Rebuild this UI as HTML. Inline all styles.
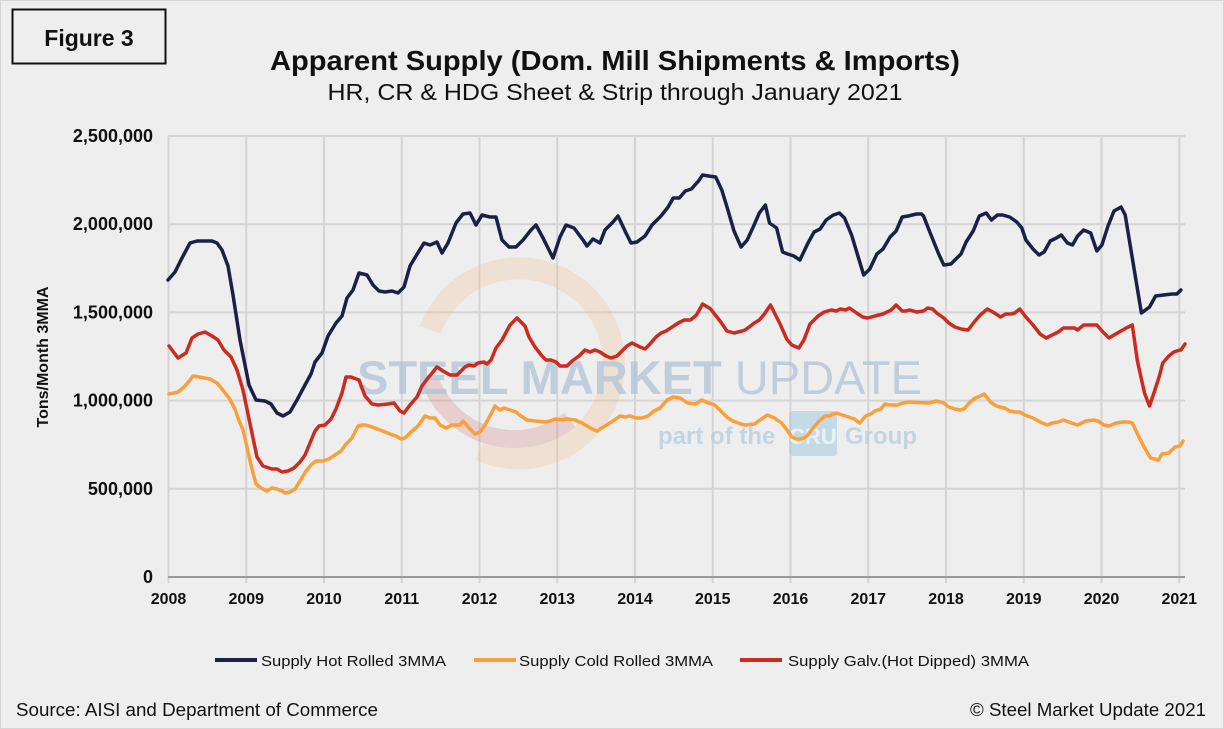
<!DOCTYPE html>
<html><head><meta charset="utf-8"><style>
html,body{margin:0;padding:0;background:#eeeeee}
svg{display:block;font-family:"Liberation Sans",Arial,sans-serif}
</style></head><body>
<svg id="s" width="1224" height="729" viewBox="0 0 1224 729" xmlns="http://www.w3.org/2000/svg">
<rect x="0" y="0" width="1224" height="729" fill="#eeeeee"/>
<rect x="0.5" y="0.5" width="1223" height="728" fill="none" stroke="#d6d6d6"/>
<rect x="12.5" y="9.5" width="153" height="54" fill="none" stroke="#111" stroke-width="2"/>
<text x="89" y="46" font-size="23" font-weight="bold" text-anchor="middle" fill="#111">Figure 3</text>
<text x="615" y="70" font-size="28" font-weight="bold" text-anchor="middle" textLength="690" lengthAdjust="spacingAndGlyphs" fill="#111">Apparent Supply (Dom. Mill Shipments &amp; Imports)</text>
<text x="615" y="100" font-size="23" text-anchor="middle" textLength="575" lengthAdjust="spacingAndGlyphs" fill="#111">HR, CR &amp; HDG Sheet &amp; Strip through January 2021</text>
<g id="grid" stroke="#d4d4d4" stroke-width="2"></g>
<!-- watermark -->
<g opacity="0.28">
<path d="M430 330 A95 95 0 1 1 480 450" fill="none" stroke="#f0c090" stroke-width="22"/>
<path d="M430 380 A90 90 0 0 0 570 420" fill="none" stroke="#d88080" stroke-width="18"/>
</g>
<text x="357" y="394" font-size="47" font-weight="bold" fill="#b0c4d8" opacity="0.75">STEEL MARKET <tspan font-weight="normal">UPDATE</tspan></text>
<text x="658" y="444" font-size="24" font-weight="bold" fill="#b7cfe2" opacity="0.8">part of the</text>
<rect x="789" y="411" width="48" height="45" rx="3" fill="#a9cfe2" opacity="0.6"/>
<text x="813" y="444" font-size="22" font-weight="bold" text-anchor="middle" fill="#e8f2f8">CRU</text>
<text x="845" y="444" font-size="24" font-weight="bold" fill="#b7cfe2" opacity="0.8">Group</text>
<g id="series" fill="none" stroke-width="3.5" stroke-linejoin="round" stroke-linecap="round"></g>
<line x1="168" y1="577" x2="1185" y2="577" stroke="#9a9a9a" stroke-width="2"/>
<g id="labels" font-size="16" font-weight="bold" fill="#111"></g>
<g id="ylabels" font-size="18" font-weight="bold" fill="#111"></g>
<text transform="translate(48,357) rotate(-90)" font-size="16" font-weight="bold" text-anchor="middle" fill="#111">Tons/Month 3MMA</text>
<line x1="215" y1="660" x2="257" y2="660" stroke="#1a2048" stroke-width="4"/>
<text x="261" y="666" font-size="15" textLength="185" lengthAdjust="spacingAndGlyphs" fill="#111">Supply Hot Rolled 3MMA</text>
<line x1="474" y1="660" x2="516" y2="660" stroke="#f9a03c" stroke-width="4"/>
<text x="519" y="666" font-size="15" textLength="194" lengthAdjust="spacingAndGlyphs" fill="#111">Supply Cold Rolled 3MMA</text>
<line x1="740" y1="660" x2="782" y2="660" stroke="#cc2b1f" stroke-width="4"/>
<text x="788" y="666" font-size="15" textLength="241" lengthAdjust="spacingAndGlyphs" fill="#111">Supply Galv.(Hot Dipped) 3MMA</text>
<text x="16" y="716" font-size="18.5" textLength="362" lengthAdjust="spacingAndGlyphs" fill="#111">Source: AISI and Department of Commerce</text>
<text x="1206" y="716" font-size="18.5" text-anchor="end" textLength="236" lengthAdjust="spacingAndGlyphs" fill="#111">© Steel Market Update 2021</text>
</svg>
<script>
var NS="http://www.w3.org/2000/svg";
function el(t,a,p){var e=document.createElementNS(NS,t);for(var k in a)e.setAttribute(k,a[k]);document.getElementById(p).appendChild(e);return e;}
var x0=168.5,dx=77.75;
for(var i=0;i<=13;i++){var x=x0+i*dx;el('line',{x1:x,y1:136,x2:x,y2:583},'grid');
 var t=el('text',{x:x,y:604,'text-anchor':'middle'},'labels');t.textContent=2008+i;}
var yl=['0','500,000','1,000,000','1,500,000','2,000,000','2,500,000'];
for(var j=0;j<=5;j++){var y=577-j*88.2;if(j>0)el('line',{x1:168,y1:y,x2:1185,y2:y},'grid');
 var t=el('text',{x:153,y:y+6,'text-anchor':'end'},'ylabels');t.textContent=yl[j];}
function fix(a){return a.map(function(p){var x=p[0];if(x>660)x=660+(x-660)*1.0135;return x.toFixed(1)+','+p[1];}).join(' ');}
var navy=[[168,280],[175,272],[182,258],[190,243],[197,241],[205,241],[212,241],[217,243],[222,250],[228,266],[233,295],[240,340],[249,385],[256,400],[265,401],[271,404],[277,413],[283,416],[290,412],[297,400],[305,385],[311,374],[315,362],[322,353],[328,336],[336,323],[342,316],[347,298],[353,290],[359,273],[367,275],[373,285],[379,291],[385,292],[392,291],[398,293],[404,287],[410,266],[416,256],[424,243],[430,245],[437,242],[442,253],[448,243],[456,223],[463,214],[470,213],[476,225],[482,215],[490,217],[496,217],[502,240],[509,247],[516,247],[523,240],[531,230],[536,225],[543,238],[553,258],[560,237],[566,225],[574,228],[583,240],[587,246],[593,239],[600,243],[605,230],[613,222],[618,216],[626,233],[631,243],[637,242],[645,236],[652,225],[661,216],[668,207],[673,198],[679,198],[685,191],[691,189],[698,181],[702,175],[708,176],[715,177],[721,190],[727,210],[733,231],[740,247],[746,240],[752,227],[758,213],[764,205],[768,223],[775,228],[781,252],[786,254],[792,256],[798,260],[806,243],[812,232],[818,229],[824,220],[831,215],[837,213],[842,218],[849,235],[855,255],[861,275],[867,269],[874,254],[880,249],[887,237],[893,231],[899,217],[905,216],[913,214],[918,214],[920,216],[927,234],[935,254],[940,265],[947,264],[957,254],[962,242],[969,231],[975,216],[982,213],[987,220],[993,215],[998,215],[1005,217],[1012,222],[1017,228],[1021,240],[1028,249],[1034,255],[1039,252],[1045,241],[1051,238],[1056,235],[1062,243],[1067,245],[1072,236],[1078,230],[1085,233],[1091,251],[1096,245],[1102,226],[1108,211],[1115,207],[1119,215],[1125,252],[1135,313],[1143,307],[1149,296],[1165,294],[1170,294],[1174,290]];
var red=[[169,346],[178,358],[186,353],[192,338],[198,334],[205,332],[212,336],[218,340],[224,350],[231,357],[237,370],[243,390],[248,414],[253,438],[257,457],[263,466],[272,469],[277,469],[282,472],[288,471],[294,468],[300,462],[305,455],[310,443],[315,431],[319,426],[325,425],[331,419],[336,409],[342,393],[346,377],[351,377],[359,380],[365,396],[372,404],[378,405],[388,404],[394,403],[400,411],[404,413],[410,405],[417,397],[422,386],[428,378],[437,367],[443,371],[450,375],[457,375],[465,367],[469,365],[474,366],[478,363],[484,362],[487,364],[491,360],[496,348],[502,340],[510,325],[517,318],[525,326],[529,337],[535,347],[542,356],[546,360],[551,360],[556,362],[560,366],[567,366],[572,361],[579,356],[585,350],[590,352],[595,350],[600,352],[606,356],[611,358],[617,356],[623,350],[627,346],[632,343],[640,347],[645,349],[650,344],[656,337],[661,333],[666,331],[672,327],[678,323],[684,320],[690,320],[696,315],[702,304],[710,309],[713,313],[720,322],[726,331],[733,333],[741,331],[744,330],[748,327],[753,323],[758,320],[763,314],[769,305],[774,315],[778,323],[785,339],[790,345],[797,348],[802,340],[808,324],[816,316],[822,312],[829,310],[834,311],[838,309],[843,310],[847,308],[854,313],[860,317],[865,318],[872,316],[880,314],[888,310],[893,305],[899,311],[903,311],[906,310],[910,311],[913,312],[920,311],[924,308],[929,309],[933,313],[940,318],[945,323],[951,327],[957,329],[964,330],[970,322],[976,315],[983,309],[990,313],[996,317],[1001,314],[1006,314],[1010,313],[1015,309],[1021,317],[1028,325],[1035,334],[1041,338],[1047,335],[1053,332],[1058,328],[1064,328],[1069,328],[1072,330],[1078,325],[1086,325],[1091,325],[1098,333],[1103,338],[1108,335],[1120,328],[1126,325],[1131,361],[1138,393],[1143,406],[1148,391],[1153,375],[1156,363],[1162,356],[1167,352],[1173,350],[1174,350],[1178,344]];
var org=[[169,394],[178,392],[184,387],[190,380],[193,376],[199,377],[210,379],[217,383],[222,389],[229,398],[235,409],[238,418],[243,430],[247,447],[251,465],[256,484],[261,488],[267,491],[272,488],[277,489],[282,491],[285,493],[290,492],[295,489],[300,481],[306,471],[311,465],[316,461],[323,461],[329,459],[335,455],[341,451],[346,444],[352,438],[358,426],[362,425],[366,425],[375,428],[380,430],[390,434],[396,436],[401,439],[405,438],[411,432],[418,426],[425,416],[430,418],[435,418],[440,425],[446,428],[452,425],[460,425],[463,421],[470,429],[475,434],[480,432],[485,425],[490,416],[495,406],[500,410],[504,408],[510,410],[516,412],[521,416],[527,420],[535,421],[546,422],[550,421],[555,419],[562,420],[567,419],[575,420],[582,423],[592,429],[597,431],[605,426],[613,421],[620,416],[625,417],[630,416],[636,418],[642,418],[648,416],[654,411],[660,408],[667,400],[673,397],[680,398],[687,403],[695,404],[701,400],[708,403],[714,405],[722,413],[727,418],[732,421],[740,424],[744,425],[753,424],[760,419],[766,415],[773,418],[780,423],[786,431],[790,437],[795,439],[800,439],[805,436],[811,428],[817,421],[823,416],[827,416],[831,414],[834,413],[840,415],[846,417],[852,419],[857,423],[863,416],[868,414],[872,411],[878,409],[882,404],[887,405],[894,405],[900,403],[905,402],[925,403],[933,401],[940,403],[945,407],[951,409],[956,410],[960,409],[965,403],[971,398],[976,396],[980,394],[983,398],[986,402],[992,406],[1000,408],[1005,411],[1010,412],[1015,412],[1020,415],[1028,418],[1035,422],[1042,425],[1047,423],[1053,422],[1058,420],[1066,423],[1072,425],[1080,421],[1088,420],[1092,421],[1098,425],[1103,426],[1110,423],[1116,422],[1122,422],[1126,423],[1133,438],[1141,453],[1144,458],[1152,460],[1155,454],[1162,453],[1168,447],[1173,446],[1176,441]];
el('polyline',{points:fix(org),stroke:'#f9a03c'},'series');
el('polyline',{points:fix(red),stroke:'#cc2b1f'},'series');
el('polyline',{points:fix(navy),stroke:'#1a2048'},'series');
</script>
</body></html>
